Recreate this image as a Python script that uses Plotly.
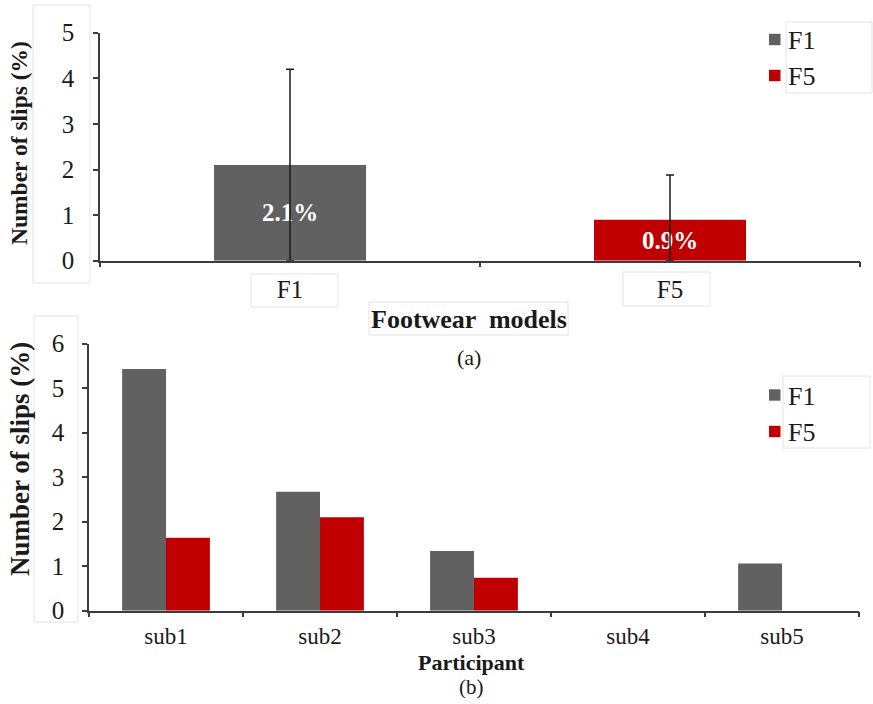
import plotly.graph_objects as go

W, H = 873, 704

# (a) mean slips per footwear model
models = ["F1", "F5"]
mean_slips = [2.1, 0.9]
slip_sd = [2.1, 0.98]
mean_labels = ["2.1%", "0.9%"]

# (b) slips per participant
participants = ["sub1", "sub2", "sub3", "sub4", "sub5"]
f1_slips = [5.43, 2.67, 1.34, 0.0, 1.06]
f5_slips = [1.64, 2.10, 0.74, 0.0, 0.0]

top_ticks = [0, 1, 2, 3, 4, 5]
bottom_ticks = [0, 1, 2, 3, 4, 5, 6]

GRAY = "#616161"
RED = "#C00000"
AXIS = "#3c3c3c"
FAINT = "#e2e2e2"
SERIF = "Liberation Serif, Times New Roman, serif"


def px(x):
    return x / W


def py(y):
    return 1 - y / H


fig = go.Figure()

fig.add_trace(go.Bar(
    x=models, y=mean_slips, width=0.4,
    marker=dict(color=[GRAY, RED], line=dict(width=0)),
    text=mean_labels, textposition="inside", insidetextanchor="middle",
    textfont=dict(family=SERIF, size=25, color="white", weight="bold"),
    constraintext="none", cliponaxis=False,
    error_y=dict(type="data", array=slip_sd, arrayminus=mean_slips,
                 color="#1a1a1a", thickness=1.5, width=4),
    xaxis="x", yaxis="y", showlegend=False,
))

fig.add_trace(go.Bar(
    x=participants, y=f1_slips, name="F1",
    marker=dict(color=GRAY, line=dict(width=0)),
    xaxis="x2", yaxis="y2", showlegend=False,
))
fig.add_trace(go.Bar(
    x=participants, y=f5_slips, name="F5",
    marker=dict(color=RED, line=dict(width=0)),
    xaxis="x2", yaxis="y2", showlegend=False,
))

axis_common = dict(
    showline=True, linecolor=AXIS, linewidth=1.5,
    ticks="outside", ticklen=5, tickwidth=1.5, tickcolor=AXIS,
    showgrid=False, zeroline=False, automargin=False,
)
tick_font = dict(family=SERIF, size=25, color="#1a1a1a")

fig.update_layout(
    width=W, height=H,
    margin=dict(l=0, r=0, t=0, b=0, autoexpand=False),
    paper_bgcolor="white", plot_bgcolor="white",
    barmode="group",
    xaxis=dict(domain=[px(100), px(860)], anchor="y", type="category",
               tickson="boundaries", ticklabelstandoff=6, tickfont=tick_font,
               **axis_common),
    yaxis=dict(domain=[py(260.7), py(32.7)], anchor="x", range=[0, 5],
               tickvals=top_ticks, ticklabelstandoff=14, tickfont=tick_font,
               **axis_common),
    xaxis2=dict(domain=[px(89), px(859)], anchor="y2", type="category",
                tickson="boundaries", ticklabelstandoff=4,
                tickfont=dict(tick_font, size=23), **axis_common),
    yaxis2=dict(domain=[py(610.7), py(343.5)], anchor="x2", range=[0, 6],
                tickvals=bottom_ticks, ticklabelstandoff=13, tickfont=tick_font,
                **axis_common),
    bargap=0.43, bargroupgap=0,
)

annotations = [
    dict(text="<b>Number of slips (%)</b>", x=px(19), y=py(143), textangle=-90,
         font=dict(size=23.5)),
    dict(text="<b>Number of slips (%)</b>", x=px(20), y=py(459), textangle=-90,
         font=dict(size=27)),
    dict(text="<b>Footwear  models</b>", x=px(469), y=py(319), font=dict(size=26)),
    dict(text="(a)", x=px(469), y=py(357), font=dict(size=22)),
    dict(text="<b>Participant</b>", x=px(472), y=py(662), font=dict(size=22)),
    dict(text="(b)", x=px(472), y=py(687), font=dict(size=21)),
]

# legend entries for both panels
legend_rows = [("F1", GRAY, 39.5), ("F5", RED, 75.5),
               ("F1", GRAY, 395), ("F5", RED, 431.5)]
shapes = []
for label, color, yc in legend_rows:
    shapes.append(dict(type="rect", xref="paper", yref="paper",
                       x0=px(769), x1=px(780.5), y0=py(yc + 5.7), y1=py(yc - 5.7),
                       fillcolor=color, line=dict(width=0)))
    annotations.append(dict(text=label, x=px(785.5), y=py(yc + 1), xanchor="left",
                            font=dict(size=26)))

for a in annotations:
    a.setdefault("xref", "paper")
    a.setdefault("yref", "paper")
    a.setdefault("showarrow", False)
    a.setdefault("yanchor", "middle")
    a.setdefault("xanchor", "center")
    a["font"] = dict(family=SERIF, color="#1a1a1a", **a["font"])

# faint text-box outlines around labels
for x0, y0, x1, y1 in [(33, 5, 90, 283), (34, 316, 78, 622),
                       (251, 274, 338, 307), (623, 272, 710, 306),
                       (369, 302, 568, 335),
                       (786, 22, 872, 93), (783, 376, 870, 448)]:
    shapes.append(dict(type="rect", xref="paper", yref="paper",
                       x0=px(x0), x1=px(x1), y0=py(y1), y1=py(y0),
                       line=dict(color=FAINT, width=1), layer="below"))

fig.update_layout(annotations=annotations, shapes=shapes)

fig.write_html("out.html")
